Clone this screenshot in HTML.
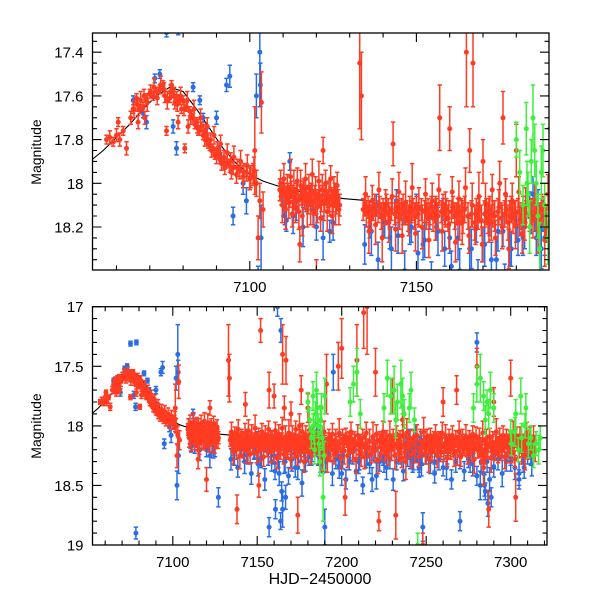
<!DOCTYPE html>
<html><head><meta charset="utf-8"><style>
body{margin:0;background:#fff}
svg{display:block}
text{font-family:"Liberation Sans",sans-serif;fill:#000}
</style></head><body>
<svg id="chart" width="600" height="600" viewBox="0 0 600 600" xmlns="http://www.w3.org/2000/svg">
<defs>
<clipPath id="clipTop"><rect x="92.5" y="33" width="456.5" height="237"/></clipPath>
<clipPath id="clipBot"><rect x="92.5" y="306.7" width="454.5" height="238.3"/></clipPath>
</defs>
<g id="topPanel"></g>
<g id="botPanel"></g>
<text x="0" y="0" transform="translate(41,152) rotate(-90)" text-anchor="middle" font-size="14">Magnitude</text>
<text x="0" y="0" transform="translate(41,426) rotate(-90)" text-anchor="middle" font-size="14">Magnitude</text>
<text x="320" y="584" text-anchor="middle" font-size="16">HJD−2450000</text>
</svg>
<script>
const modelDays=[7052,7056,7060,7064,7068,7072,7076,7080,7084,7088,7092,7096,7100,7104,7108,7112,7116,7120,7124,7128,7132,7136];
const modelMags=[17.90,17.85,17.79,17.73,17.66,17.60,17.56,17.58,17.66,17.75,17.84,17.91,17.96,17.99,18.01,18.03,18.04,18.05,18.06,18.07,18.075,18.08];

const redDays=[
7057,7058,7059,7060,7060.5,7061,7062,7063,7065,7066,
7066.5,7067,7068,7068.5,7069,7070,7071,7072,7073,7074,
7074.5,7075,7076,7076.5,7077,7077.5,7078,7078.5,7079,7079.5,
7080,7080.5,7081,7081.5,7082,7082.5,7083,7083.5,7084,7084.5,
7085,7085.5,7086,7086.5,7087,7087.5,7088,7088.5,7089,7089.5,
7090,7090.5,7091,7091.5,7092,7092.5,7093,7094,7094.5,7095,
7096,7097,7098,7099,7100,7101,7101.5,7102,7102.5,7103,
7103.5,7104,7109,7109.5,7110,7110.5,7111,7111.5,7112,7112.5,
7113,7113.5,7114,7114.5,7115,7115.5,7116,7116.5,7117,7117.5,
7118,7118.5,7119,7119.5,7120,7120.5,7121,7121.5,7122,7122.5,
7123,7123.5,7124,7124.5,7125,7125.5,7126,7126.5,7127,7133,
7133.5,7134,7134.5,7135,7135.5,7136,7136.5,7137,7137.5,7138,
7138.5,7139,7139.5,7140,7140.5,7141,7141.5,7142,7142.5,7143,
7143.5,7144,7144.5,7145,7145.5,7146,7146.5,7147,7147.5,7148,
7148.5,7149,7149.5,7150,7150.5,7151,7151.5,7152,7152.5,7153,
7153.5,7154,7154.5,7155,7155.5,7156,7156.5,7157,7157.5,7158,
7158.5,7159,7159.5,7160,7160.5,7161,7161.5,7162,7162.5,7163,
7163.5,7164,7164.5,7165,7165.5,7166,7166.5,7167,7167.5,7168,
7168.5,7169,7169.5,7170,7170.5,7171,7171.5,7172,7172.5,7173,
7173.5,7174,7174.5,7175,7175.5,7176,7176.5,7177,7177.5,7178,
7178.5,7179,7179.5,7180,7180.5,7181,7181.5,7182,7182.5,7183,
7190,7191,7192,7193,7194,7195,7196,7197,7198,7199,
7200,7201,7202,7203,7204,7205,7206,7207,7208,7209,
7210,7211,7212,7213,7214,7215,7219,7220,7221,7222,
7223,7224,7225,7226,7227,7228,7229,7230,7231,7232,
7233,7234,7235,7236,7237,7238,7248,7249,7250,7251,
7252,7253,7254,7255,7256,7257,7258,7259,7260,7261,
7262,7263,7264,7265,7266,7267,7268,7269,7270,7271,
7272,7273,7274,7275,7276,7277,7278,7279,7280,7281,
7282,7283,7284,7285,7286,7287,7288,7289,7290,7291,
7292,7293,7294,7295,7296,7297,7298,7299,7300,7301,
7302,7303,7304,7305,7306,7307,7308,7309,7310,7311,
7312,7313,7314,7184,7184.5,7185,7186,7187,7188,7189];
const redMags=[
17.80,17.79,17.81,17.78,17.72,17.80,17.76,17.84,17.66,17.61,
17.72,17.66,17.65,17.70,17.62,17.59,17.60,17.58,17.57,17.55,
17.60,17.76,17.61,17.55,17.58,17.63,17.60,17.72,17.62,17.66,
17.62,17.84,17.65,17.74,17.67,17.69,17.70,17.73,17.72,17.75,
17.76,17.74,17.78,17.80,17.79,17.82,17.83,17.85,17.84,17.87,
17.88,17.86,17.89,17.91,17.90,17.93,17.91,17.92,17.95,17.93,
17.96,17.94,17.97,17.95,17.98,17.96,17.85,18.00,18.25,18.08,
17.63,18.12,18.03,18.06,18.02,18.05,18.08,18.04,18.06,18.03,
18.05,18.07,18.04,18.08,18.28,18.06,18.03,18.07,18.05,18.09,
18.06,18.04,18.08,18.05,18.45,18.07,18.06,18.09,17.85,18.08,
18.05,18.07,18.10,18.06,18.08,18.04,18.09,18.07,18.10,17.45,
17.60,18.12,18.10,18.14,18.11,18.13,18.16,18.12,18.10,18.70,
18.13,18.11,18.15,18.12,18.14,18.10,18.13,18.16,18.12,17.82,
18.14,18.11,18.13,18.15,18.12,18.10,18.14,18.13,18.16,18.11,
18.13,18.12,18.15,18.11,18.14,18.50,18.12,17.20,18.13,18.15,
18.12,18.14,18.11,18.16,18.13,18.12,18.15,17.70,18.13,18.10,
18.14,18.12,18.16,17.75,18.13,18.11,18.15,18.14,18.12,18.18,
18.13,18.16,18.12,17.40,18.15,17.85,18.14,17.45,18.18,18.13,
18.15,18.12,18.17,17.90,18.14,18.13,18.16,18.12,18.18,18.14,
18.15,18.75,18.13,18.00,18.16,17.70,18.14,18.12,18.18,18.15,
18.12,18.16,18.14,17.85,18.13,18.17,18.15,18.12,18.18,18.14,
18.15,17.65,18.12,18.18,18.14,18.20,18.13,18.16,17.50,18.15,
17.35,18.14,18.60,18.12,18.17,18.15,18.13,18.19,18.14,17.45,
18.16,18.13,18.18,17.05,18.15,17.00,18.15,17.55,18.13,18.80,
18.17,18.14,18.16,18.12,18.18,18.15,18.13,17.75,18.17,18.75,
18.15,18.20,18.16,17.95,18.18,18.30,19.00,18.15,18.17,18.14,
18.16,18.18,18.13,18.15,18.17,18.14,18.16,18.18,17.80,18.15,
18.13,18.17,18.15,18.14,18.18,18.16,17.70,18.15,18.17,18.13,
18.16,18.14,18.18,18.15,18.17,18.13,18.16,18.14,17.50,18.15,
18.18,18.20,18.35,18.22,18.18,18.70,18.15,18.17,17.80,18.14,
18.16,18.18,18.14,18.17,18.15,18.13,18.18,18.16,17.60,18.15,
18.17,18.60,18.14,18.18,18.16,18.15,18.13,18.17,18.14,18.16,
18.15,18.18,18.14,18.15,18.13,18.17,18.14,18.16,18.12,18.18];
const redErrs=[
.02,.03,.02,.03,.02,.03,.02,.03,.02,.02,
.03,.02,.02,.03,.02,.02,.02,.02,.02,.02,
.03,.02,.02,.02,.02,.03,.02,.03,.02,.02,
.02,.02,.02,.03,.02,.02,.02,.02,.02,.03,
.02,.02,.02,.03,.02,.02,.02,.03,.02,.02,
.03,.02,.02,.03,.02,.03,.02,.03,.03,.03,
.04,.04,.05,.04,.05,.05,.20,.06,.10,.08,
.14,.08,.05,.04,.04,.05,.04,.04,.05,.04,
.04,.05,.04,.05,.08,.04,.04,.05,.04,.05,
.04,.04,.05,.04,.10,.04,.05,.04,.06,.05,
.05,.04,.05,.04,.05,.04,.05,.04,.05,.30,
.20,.05,.05,.06,.05,.05,.06,.05,.05,.12,
.05,.05,.06,.05,.05,.05,.06,.05,.05,.10,
.05,.05,.05,.06,.05,.05,.05,.05,.06,.05,
.05,.05,.06,.05,.05,.10,.05,.10,.05,.06,
.05,.05,.05,.06,.05,.05,.06,.15,.05,.05,
.05,.05,.06,.10,.05,.05,.06,.05,.05,.08,
.06,.07,.06,.25,.06,.10,.06,.20,.08,.06,
.06,.06,.07,.10,.06,.06,.07,.06,.08,.06,
.07,.15,.06,.10,.07,.12,.06,.06,.08,.07,
.06,.07,.06,.12,.06,.07,.06,.06,.08,.06,
.07,.25,.06,.08,.07,.09,.06,.07,.20,.07,
.25,.07,.15,.06,.08,.07,.06,.08,.07,.30,
.08,.06,.09,.30,.07,.40,.07,.20,.06,.08,
.08,.07,.08,.06,.09,.07,.06,.15,.08,.20,
.08,.10,.08,.12,.09,.15,.10,.07,.08,.07,
.07,.08,.06,.07,.08,.07,.07,.08,.12,.07,
.06,.08,.07,.07,.08,.07,.12,.07,.08,.06,
.07,.07,.08,.07,.08,.06,.07,.07,.15,.07,
.08,.10,.15,.10,.08,.15,.07,.08,.12,.07,
.07,.08,.07,.08,.07,.06,.08,.07,.15,.07,
.08,.20,.07,.08,.07,.07,.06,.08,.07,.07,
.07,.08,.06,.07,.06,.08,.07,.07,.06,.08];

// extra red: early rise/decline
const redRiseDays=[7064.25,7065.25,7066.25,7067.25,7068.25,7069.25,7070.25,7071.25,7072.25,7073.25,
7074.25,7075.25,7076.25,7077.25,7078.25,7079.25,7080.25,7081.25,7082.25,7083.25,
7084.25,7085.25,7086.25,7087.25,7088.25,7089.25,7090.25,7091.25,7092.25,7093.25,
7094.25,7095.25,7096.25,7097.25,7098.25,7099.25,7100.25,7101.25];
const redRiseMags=[17.70,17.66,17.64,17.62,17.60,17.63,17.58,17.56,17.61,17.55,
17.57,17.62,17.58,17.60,17.64,17.60,17.66,17.62,17.70,17.66,
17.74,17.70,17.76,17.74,17.80,17.78,17.84,17.82,17.88,17.86,
17.90,17.88,17.93,17.90,17.95,17.92,17.97,17.94];
const redRiseErrs=[.03,.04,.03,.04,.03,.04,.03,.04,.03,.04,
.03,.04,.03,.04,.03,.04,.03,.04,.03,.04,
.03,.04,.03,.04,.03,.04,.03,.04,.03,.04,
.04,.05,.04,.05,.04,.05,.05,.06];

// extra red: second plateau
const redMidDays=[7109.25,7109.75,7110.25,7110.75,7111.25,7111.75,7112.25,7112.75,7113.25,7113.75,
7114.25,7114.75,7115.25,7115.75,7116.25,7116.75,7117.25,7117.75,7118.25,7118.75,
7119.25,7119.75,7120.25,7120.75,7121.25,7121.75,7122.25,7122.75,7123.25,7123.75,
7124.25,7124.75,7125.25,7125.75,7126.25,7126.75];
const redMidMags=[18.00,18.10,17.98,18.12,18.02,18.09,17.97,18.14,18.03,18.11,
17.99,18.13,18.01,18.15,18.04,17.98,18.12,18.02,18.10,17.96,
18.14,18.05,18.11,17.99,18.16,18.03,18.09,18.00,18.13,18.06,
17.98,18.15,18.04,18.10,18.01,18.12];
const redMidErrs=[.06,.08,.07,.09,.06,.07,.08,.06,.09,.07,
.06,.08,.07,.09,.06,.07,.08,.06,.09,.07,
.06,.08,.07,.09,.06,.07,.08,.06,.09,.07,
.06,.08,.07,.09,.06,.07];

// extra red: main plateau 7134-7183
const redPlatDays=[7134.75,7135.75,7136.75,7137.75,7138.75,7139.75,7140.75,7141.75,7142.75,7143.75,
7144.75,7145.75,7146.75,7147.75,7148.75,7149.75,7150.75,7151.75,7152.75,7153.75,
7154.75,7155.75,7156.75,7157.75,7158.75,7159.75,7160.75,7161.75,7162.75,7163.75,
7164.75,7165.75,7166.75,7167.75,7168.75,7169.75,7170.75,7171.75,7172.75,7173.75,
7174.75,7175.75,7176.75,7177.75,7178.75,7179.75,7180.75,7181.75,7182.75];
const redPlatMags=[18.05,18.22,18.08,18.19,18.03,18.25,18.10,18.18,18.06,18.21,
18.04,18.24,18.09,18.17,18.02,18.23,18.11,18.20,18.05,18.26,
18.08,18.16,18.03,18.22,18.12,18.19,18.04,18.27,18.07,18.18,
18.02,18.24,18.10,18.21,18.06,18.28,18.09,18.17,18.03,18.25,
18.11,18.20,18.05,18.30,18.08,18.19,18.04,18.23,18.10];
const redPlatErrs=[.08,.10,.07,.09,.08,.11,.07,.09,.08,.10,
.09,.08,.10,.07,.11,.08,.09,.10,.07,.08,
.08,.10,.07,.09,.08,.11,.07,.09,.08,.10,
.09,.08,.10,.07,.11,.08,.09,.10,.07,.08,
.08,.10,.07,.09,.08,.11,.07,.09,.08];

// extra red: late plateau 7185-7315
const redLateDays=[7185.5,7186.5,7187.5,7188.5,7189.5,7190.5,7191.5,7192.5,7193.5,7194.5,
7195.5,7196.5,7197.5,7198.5,7199.5,7200.5,7201.5,7202.5,7203.5,7204.5,
7205.5,7206.5,7207.5,7208.5,7209.5,7210.5,7211.5,7212.5,7213.5,7214.5,
7215.5,7216.5,7217.5,7218.5,7219.5,7220.5,7221.5,7222.5,7223.5,7224.5,
7225.5,7226.5,7227.5,7228.5,7229.5,7230.5,7231.5,7232.5,7233.5,7234.5,
7235.5,7236.5,7237.5,7238.5,7239.5,7240.5,7241.5,7242.5,7243.5,7244.5,
7245.5,7246.5,7247.5,7248.5,7249.5,7250.5,7251.5,7252.5,7253.5,7254.5,
7255.5,7256.5,7257.5,7258.5,7259.5,7260.5,7261.5,7262.5,7263.5,7264.5,
7265.5,7266.5,7267.5,7268.5,7269.5,7270.5,7271.5,7272.5,7273.5,7274.5,
7275.5,7276.5,7277.5,7278.5,7279.5,7280.5,7281.5,7282.5,7283.5,7284.5,
7285.5,7286.5,7287.5,7288.5,7289.5,7290.5,7291.5,7292.5,7293.5,7294.5,
7295.5,7296.5,7297.5,7298.5,7299.5,7300.5,7301.5,7302.5,7303.5,7304.5,
7305.5,7306.5,7307.5,7308.5,7309.5,7310.5,7311.5,7312.5,7313.5,7314.5];
const redLateMags=[18.08,18.22,18.12,18.26,18.05,18.18,18.28,18.10,18.20,18.07,
18.24,18.13,18.19,18.06,18.27,18.11,18.21,18.09,18.25,18.14,
18.05,18.20,18.12,18.28,18.08,18.17,18.23,18.10,18.26,18.06,
18.19,18.13,18.24,18.09,18.21,18.07,18.29,18.12,18.18,18.05,
18.22,18.14,18.26,18.08,18.20,18.11,18.25,18.07,18.19,18.13,
18.27,18.09,18.22,18.06,18.18,18.12,18.24,18.10,18.21,18.08,
18.26,18.13,18.19,18.05,18.23,18.11,18.28,18.09,18.20,18.14,
18.07,18.25,18.12,18.18,18.06,18.22,18.10,18.27,18.13,18.19,
18.08,18.24,18.11,18.21,18.05,18.26,18.14,18.18,18.09,18.23,
18.12,18.20,18.07,18.28,18.10,18.19,18.13,18.25,18.06,18.22,
18.11,18.18,18.09,18.27,18.14,18.21,18.05,18.24,18.12,18.20,
18.08,18.26,18.10,18.19,18.13,18.23,18.07,18.28,18.11,18.18,
18.09,18.22,18.14,18.25,18.06,18.20,18.12,18.17,18.10,18.21];
const redLateErrs=[.08,.10,.07,.12,.09,.08,.11,.07,.10,.09,
.08,.10,.07,.12,.09,.08,.11,.07,.10,.09,
.08,.10,.07,.12,.09,.08,.11,.07,.10,.09,
.08,.10,.07,.12,.09,.08,.11,.07,.10,.09,
.08,.10,.07,.12,.09,.08,.11,.07,.10,.09,
.08,.10,.07,.12,.09,.08,.11,.07,.10,.09,
.08,.10,.07,.12,.09,.08,.11,.07,.10,.09,
.08,.10,.07,.12,.09,.08,.11,.07,.10,.09,
.08,.10,.07,.12,.09,.08,.11,.07,.10,.09,
.08,.10,.07,.12,.09,.08,.11,.07,.10,.09,
.08,.10,.07,.12,.09,.08,.11,.07,.10,.09,
.08,.10,.07,.12,.09,.08,.11,.07,.10,.09,
.08,.10,.07,.12,.09,.08,.11,.07,.10,.09];

const blueDays=[
7065,7068,7069,7071.5,7073,7075,7077,7078,7078.5,7083,
7085,7086,7087,7090,7091,7093,7094,7095,7098,7099,
7078.2,7102,7102.5,7103,7103.2,7103.4,7110,7110.5,7111,7112,
7114,7117,7120,7124,7127,7136,7138,7140,7142,7144,
7146,7148,7150,7152,7154,7156,7157,7158,7160,7162,
7163,7164,7165,7166,7168,7170,7172,7174,7176,7178,
7180,7182,7184,7185,7185.5,7186,7186.5,7187,7187.5,7188,
7188.5,7189,7190,7192,7195,7198,7200,7205,7210,7215,
7218,7220,7225,7238,7239,7240,7241,7242,7243,7244,
7245,7246,7247,7247.5,7248,7255,7262,7270,7276,7280,
7282,7284,7286,7290,7295,7300,7305,7308,7310,7312];
const blueMags=[
17.62,17.68,17.72,17.52,17.50,17.31,17.74,17.84,17.30,17.56,
17.62,17.70,17.78,17.70,17.87,17.55,17.51,18.15,18.00,18.08,
18.90,17.60,18.50,17.40,17.55,18.25,18.10,18.15,18.17,17.90,
18.12,18.08,18.20,18.22,18.60,18.20,18.10,18.18,18.25,18.08,
18.14,18.22,18.10,18.28,18.16,18.20,18.85,18.12,18.25,17.00,
18.40,17.20,18.70,18.30,18.20,18.28,18.18,18.35,18.22,18.30,
18.20,18.25,18.10,18.05,18.15,18.25,18.10,18.20,18.30,18.15,
18.25,18.20,18.85,18.20,17.55,18.25,18.40,18.22,18.30,18.25,
18.45,18.20,18.30,18.15,18.25,18.10,18.20,18.30,18.15,18.22,
18.18,18.30,18.12,18.25,18.85,18.30,18.35,18.80,18.30,17.30,
18.50,18.40,18.30,18.25,18.20,18.30,18.40,18.35,18.20,18.25];
const blueErrs=[
.02,.02,.03,.02,.02,.02,.03,.03,.02,.02,
.02,.02,.03,.03,.04,.03,.05,.04,.05,.06,
.05,.10,.12,.25,.10,.15,.05,.04,.05,.04,
.05,.05,.06,.05,.08,.05,.05,.06,.05,.05,
.05,.06,.05,.07,.05,.06,.08,.05,.07,.08,
.10,.10,.15,.10,.07,.08,.06,.10,.07,.08,
.07,.08,.06,.08,.07,.08,.07,.08,.09,.07,
.08,.07,.15,.07,.15,.08,.10,.07,.10,.08,
.10,.07,.09,.08,.09,.07,.08,.09,.07,.08,
.08,.09,.07,.08,.12,.08,.10,.08,.09,.08,
.12,.10,.09,.08,.07,.08,.10,.09,.07,.08];

const blueExtraDays=[7113,7116,7119,7122,7125,7134.5,7136.5,7138.5,7140.5,7142.5,
7144.5,7146.5,7148.5,7150.5,7152.5,7154.5,7156.5,7158.5,7160.5,7162.5,
7164.5,7166.5,7168.5,7170.5,7172.5,7174.5,7176.5,7178.5,7180.5,7182.5,
7184.5,7190.5,7192.5,7194.5,7196.5,7198.5,7200.5,7202.5,7204.5,7206.5,
7208.5,7210.5,7212.5,7214.5,7216.5,7218.5,7220.5,7222.5,7224.5,7226.5,
7228.5,7230.5,7232.5,7234.5,7236.5,7239.5,7240.5,7241.5,7242.5,7243.5,
7244.5,7245.5,7246.5,7247.2,7239.8,7241.8,7243.8,7245.8,7250,7252.5,
7255,7257.5,7260,7262.5,7265,7267.5,7270,7272.5,7275,7277.5,
7280,7282.5,7285,7287.5,7290,7292.5,7295,7297.5,7300,7302.5,
7305,7307.5,7310,7312.5,7288.5,7284.5,7286.5,7160.8,7163.8,7166.8];
const blueExtraMags=[18.15,18.20,18.12,18.25,18.18,18.28,18.22,18.35,18.18,18.30,
18.24,18.40,18.20,18.32,18.26,18.45,18.22,18.30,18.38,18.25,
18.55,18.30,18.42,18.28,18.35,18.22,18.48,18.30,18.26,18.20,
18.15,18.30,18.22,18.40,18.28,18.35,18.25,18.45,18.30,18.22,
18.38,18.28,18.50,18.25,18.32,18.20,18.42,18.30,18.26,18.35,
18.28,18.45,18.30,18.22,18.38,18.12,18.25,18.18,18.30,18.15,
18.22,18.28,18.16,18.32,18.20,18.26,18.10,18.35,18.25,18.30,
18.40,18.28,18.35,18.22,18.45,18.30,18.25,18.38,18.28,18.32,
18.42,18.30,18.55,18.45,18.35,18.28,18.40,18.30,18.26,18.35,
18.45,18.30,18.25,18.32,18.60,18.50,18.65,18.70,18.80,18.60];
const blueExtraErrs=[.08,.09,.07,.10,.08,.09,.11,.08,.07,.10,
.08,.09,.07,.10,.08,.09,.11,.08,.07,.10,
.08,.09,.07,.10,.08,.09,.11,.08,.07,.10,
.08,.09,.07,.10,.08,.09,.11,.08,.07,.10,
.08,.09,.07,.10,.08,.09,.11,.08,.07,.10,
.08,.09,.07,.10,.08,.09,.11,.08,.07,.10,
.08,.09,.07,.10,.08,.09,.11,.08,.07,.10,
.08,.09,.07,.10,.08,.09,.11,.08,.07,.10,
.08,.09,.07,.10,.08,.09,.11,.08,.07,.10,
.08,.09,.07,.10,.08,.09,.11,.08,.07,.10];

const greenDays=[
7180,7181,7182,7183,7183.5,7184,7184.5,7185,7186,7187,
7188,7189,7190,7205,7207,7209,7211,7225,7227,7229,
7231,7233,7235,7237,7240,7243,7245,7278,7280,7282,
7284,7286,7288,7290,7300,7303,7306,7309,7312,7315,
7183.2,7185.5,7186.5,7187.5,7188.5,7189.5,7300.5,7302.5,7304.5,7306.5,
7308.5,7310.5,7313.5,7316.5,7317.5,7232,7236,7241,7285,7287];
const greenMags=[
17.80,17.95,18.10,17.75,18.05,18.20,17.90,17.70,18.00,18.30,
17.85,18.60,17.75,17.80,17.65,17.55,17.90,17.85,17.60,17.75,
17.70,17.80,17.65,17.90,17.85,17.95,19.00,17.85,17.65,17.60,
17.75,17.80,17.70,17.85,18.05,17.90,17.75,17.85,18.10,18.15,
18.00,17.85,18.15,17.95,18.10,18.25,18.15,18.05,18.20,18.10,
18.00,18.15,18.25,18.20,18.10,17.95,17.75,17.70,17.95,17.90];
const greenErrs=[
.08,.10,.09,.12,.10,.12,.10,.15,.10,.12,
.12,.20,.15,.12,.15,.20,.12,.12,.15,.15,
.20,.15,.20,.12,.12,.10,.10,.12,.15,.20,
.12,.10,.15,.12,.10,.12,.15,.12,.10,.10,
.10,.12,.10,.12,.10,.12,.10,.12,.10,.12,
.10,.12,.10,.12,.10,.15,.15,.15,.12,.12];

const topYTicks=[17.4,17.6,17.8,18,18.2];
const topXTicks=[7100,7150];
const botYTicks=[17,17.5,18,18.5,19];
const botXTicks=[7100,7150,7200,7250,7300];

const NS="http://www.w3.org/2000/svg";
function mk(tag,attrs,parent){const e=document.createElementNS(NS,tag);for(const k in attrs)e.setAttribute(k,attrs[k]);parent.appendChild(e);return e;}

const allRedDays=redDays.concat(redRiseDays,redMidDays,redPlatDays,redLateDays);
const allRedMags=redMags.concat(redRiseMags,redMidMags,redPlatMags,redLateMags);
const allRedErrs=redErrs.concat(redRiseErrs,redMidErrs,redPlatErrs,redLateErrs);
const allBlueDays=blueDays.concat(blueExtraDays);
const allBlueMags=blueMags.concat(blueExtraMags);
const allBlueErrs=blueErrs.concat(blueExtraErrs);

const panels=[
 {g:document.getElementById('topPanel'),clip:'clipTop',x0:92.5,x1:549,y0:33,y1:270,xmin:7052.8,xmax:7189.8,ymin:17.312,ymax:18.397,
  yMajor:topYTicks,yMinorStep:0.05,xMajor:topXTicks,xMinorStep:10,name:'top'},
 {g:document.getElementById('botPanel'),clip:'clipBot',x0:92.5,x1:547,y0:306.7,y1:545,xmin:7052.5,xmax:7321.5,ymin:17,ymax:19,
  yMajor:botYTicks,yMinorStep:0.1,xMajor:botXTicks,xMinorStep:10,name:'bottom'}];

panels.forEach(p=>{
 const X=d=>p.x0+(d-p.xmin)/(p.xmax-p.xmin)*(p.x1-p.x0);
 const Y=m=>p.y0+(m-p.ymin)/(p.ymax-p.ymin)*(p.y1-p.y0);
 const data=mk('g',{'clip-path':'url(#'+p.clip+')'},p.g);
 
 
 let d='';modelDays.forEach((v,i)=>{d+=(i?'L':'M')+X(v).toFixed(1)+','+Y(modelMags[i]).toFixed(1);});
 const ml=mk('path',{d:d,fill:'none',stroke:'#000','stroke-width':1.1},data);
 
 
 function series(days,mags,errs,color,nm){
  const sg=mk('g',{},data);
  
  
  let path='';
  days.forEach((v,i)=>{const x=X(v),ya=Y(mags[i]-errs[i]),yb=Y(mags[i]+errs[i]);
   path+='M'+x.toFixed(1)+','+ya.toFixed(1)+'V'+yb.toFixed(1)+'M'+(x-2.2).toFixed(1)+','+ya.toFixed(1)+'h4.4M'+(x-2.2).toFixed(1)+','+yb.toFixed(1)+'h4.4';});
  const eb=mk('path',{d:path,stroke:color,'stroke-width':1.5,fill:'none'},sg);
  
  
  days.forEach((v,i)=>{const c=mk('circle',{cx:X(v).toFixed(1),cy:Y(mags[i]).toFixed(1),r:2.5,fill:color},sg);
   
   });
 }
 series(allBlueDays,allBlueMags,allBlueErrs,'#2a6ee6','blue');
 series(allRedDays,allRedMags,allRedErrs,'#ff3b22','red');
 series(greenDays,greenMags,greenErrs,'#3cf03c','green');
 const fr=mk('rect',{x:p.x0,y:p.y0,width:p.x1-p.x0,height:p.y1-p.y0,fill:'none',stroke:'#000','stroke-width':1.3},p.g);
 
 
 let tk='';
 for(let v=Math.ceil(p.xmin/p.xMinorStep)*p.xMinorStep;v<=p.xmax;v+=p.xMinorStep){
  const x=X(v);const major=Math.round(v)%50===0;const L=major?9:4.5;
  tk+='M'+x.toFixed(1)+','+p.y1+'v'+(-L)+'M'+x.toFixed(1)+','+p.y0+'v'+L;}
 for(let k=Math.ceil(p.ymin/p.yMinorStep-1e-6);k*p.yMinorStep<=p.ymax+1e-9;k++){
  const v=k*p.yMinorStep;const y=Y(v);const major=p.yMajor.some(t=>Math.abs(t-v)<1e-6);const L=major?9:4.5;
  tk+='M'+p.x0+','+y.toFixed(1)+'h'+L+'M'+p.x1+','+y.toFixed(1)+'h'+(-L);}
 const tp=mk('path',{d:tk,stroke:'#000','stroke-width':1.1,fill:'none'},p.g);
 
 
 p.yMajor.forEach(v=>{const t=mk('text',{x:p.x0-9,y:Y(v)+5.5,'text-anchor':'end','font-size':15},p.g);t.textContent=String(v);
  
  });
 p.xMajor.forEach(v=>{const t=mk('text',{x:X(v),y:p.y1+22,'text-anchor':'middle','font-size':15},p.g);t.textContent=String(v);
  
  });
});
</script>
</body></html>
